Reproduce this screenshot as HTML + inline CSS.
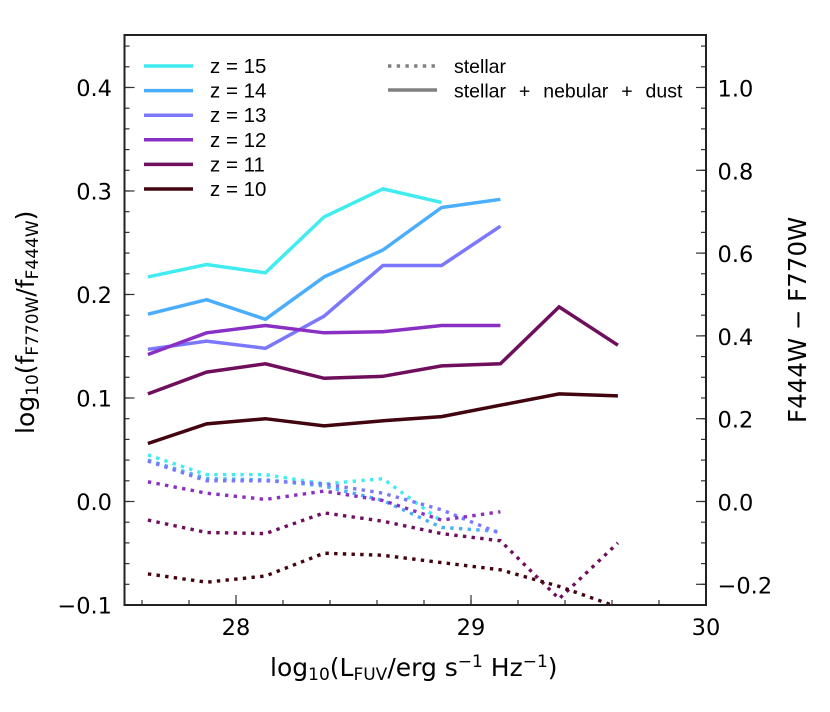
<!DOCTYPE html>
<html>
<head>
<meta charset="utf-8">
<title>Colour versus UV luminosity</title>
<style>
html,body{margin:0;padding:0;background:#fff;}
svg{display:block;}
text{fill:#000;}
.tick{font-family:"DejaVu Sans",sans-serif;font-size:22.5px;}
.title{font-family:"DejaVu Sans",sans-serif;font-size:25px;}
.legend{font-family:"Liberation Sans",sans-serif;font-size:20.5px;}
.legend-right{font-family:"Liberation Sans",sans-serif;font-size:19.5px;word-spacing:7.5px;}
</style>
</head>
<body>
<svg id="chart" xmlns="http://www.w3.org/2000/svg" width="830" height="712" viewBox="0 0 830 712">
  <defs><clipPath id="plot-clip"><rect x="124.5" y="35" width="581.5" height="570"/></clipPath></defs>
  <g id="series-layer" clip-path="url(#plot-clip)"></g>
  <g id="tick-layer"></g>
  <rect x="124.5" y="35" width="581.5" height="570" fill="none" stroke="#222" stroke-width="2"/>

  <text class="title" transform="translate(34,434) rotate(-90)">log<tspan font-size="17" dy="4">10</tspan><tspan dy="-4">(f</tspan><tspan font-size="17" dy="4">F770W</tspan><tspan dy="-4">/f</tspan><tspan font-size="17" dy="4">F444W</tspan><tspan dy="-4">)</tspan></text>
  <text class="title" transform="translate(806,423) rotate(-90)" style="font-size:24.5px">F444W − F770W</text>
  <text class="title" x="270" y="676" style="font-size:25px">log<tspan font-size="17" dy="4">10</tspan><tspan dy="-4">(L</tspan><tspan font-size="17" dy="4">FUV</tspan><tspan dy="-4">/erg s</tspan><tspan font-size="17" dy="-9">−1</tspan><tspan dy="9"> Hz</tspan><tspan font-size="17" dy="-9">−1</tspan><tspan dy="9">)</tspan></text>

  <g id="legend"></g>
  <g>
    <line x1="388" x2="437" y1="66" y2="66" stroke="#808080" stroke-width="3.4" stroke-dasharray="3.4 5.3"/>
    <text class="legend-right" x="454" y="73">stellar</text>
  </g>
  <g>
    <line x1="388" x2="437" y1="90" y2="90" stroke="#808080" stroke-width="3.5"/>
    <text class="legend-right" x="454" y="97.5">stellar + nebular + dust</text>
  </g>
</svg>
<script>
var luminosityBins = [27.625, 27.875, 28.125, 28.375, 28.625, 28.875, 29.125, 29.375, 29.625];
var redshifts = [15, 14, 13, 12, 11, 10];
var seriesColors = ['#40ecf0', '#4aaefc', '#7b78fc', '#8a2fc4', '#6f0f5c', '#42040f'];

var fullModelZ15 = [0.217, 0.229, 0.221, 0.275, 0.302, 0.289];
var fullModelZ14 = [0.181, 0.195, 0.176, 0.217, 0.243, 0.284, 0.292];
var fullModelZ13 = [0.147, 0.155, 0.148, 0.179, 0.228, 0.228, 0.266];
var fullModelZ12 = [0.142, 0.163, 0.170, 0.163, 0.164, 0.170, 0.170];
var fullModelZ11 = [0.104, 0.125, 0.133, 0.119, 0.121, 0.131, 0.133, 0.188, 0.151];
var fullModelZ10 = [0.056, 0.075, 0.080, 0.073, 0.078, 0.082, 0.093, 0.104, 0.102];

var stellarZ15 = [0.045, 0.026, 0.026, 0.017, 0.022, -0.019];
var stellarZ14 = [0.040, 0.022, 0.021, 0.015, 0.001, -0.025, -0.029];
var stellarZ13 = [0.039, 0.020, 0.020, 0.017, 0.008, -0.008, -0.031];
var stellarZ12 = [0.019, 0.008, 0.002, 0.010, 0.001, -0.018, -0.010];
var stellarZ11 = [-0.018, -0.030, -0.031, -0.011, -0.019, -0.031, -0.038, -0.094, -0.040];
var stellarZ10 = [-0.070, -0.078, -0.072, -0.050, -0.052, -0.059, -0.066, -0.082, -0.102];

var xTickValues = [28, 29, 30];
var xTickLabels = ['28', '29', '30'];
var leftTickValues = [-0.1, 0, 0.1, 0.2, 0.3, 0.4];
var leftTickLabels = ['−0.1', '0.0', '0.1', '0.2', '0.3', '0.4'];
var rightTickValues = [-0.2, 0, 0.2, 0.4, 0.6, 0.8, 1.0];
var rightTickLabels = ['−0.2', '0.0', '0.2', '0.4', '0.6', '0.8', '1.0'];

var NS = 'http://www.w3.org/2000/svg';
var X0 = 124.5, X1 = 706, Y0 = 605, Y1 = 35;
var X_MIN = 27.5255, X_MAX = 30, Y_MIN = -0.1, Y_MAX = 0.4507;

function xScale(v) { return X0 + (v - X_MIN) / (X_MAX - X_MIN) * (X1 - X0); }
function yScale(v) { return Y0 - (v - Y_MIN) / (Y_MAX - Y_MIN) * (Y0 - Y1); }
function yRightScale(v) { return yScale(v / 2.5); }

function make(tag, attrs, parent) {
  var el = document.createElementNS(NS, tag);
  for (var k in attrs) el.setAttribute(k, attrs[k]);
  parent.appendChild(el);
  return el;
}

var seriesLayer = document.getElementById('series-layer');
var tickLayer = document.getElementById('tick-layer');
var legend = document.getElementById('legend');

var fullModels = [fullModelZ15, fullModelZ14, fullModelZ13, fullModelZ12, fullModelZ11, fullModelZ10];
var stellarModels = [stellarZ15, stellarZ14, stellarZ13, stellarZ12, stellarZ11, stellarZ10];

function linePoints(values) {
  return values.map(function (v, i) {
    return xScale(luminosityBins[i]).toFixed(1) + ',' + yScale(v).toFixed(1);
  }).join(' ');
}

redshifts.forEach(function (z, i) {
  var solid = make('polyline', {points: linePoints(fullModels[i]), fill: 'none', stroke: seriesColors[i], 'stroke-width': 3.5, 'stroke-linejoin': 'miter'}, seriesLayer);
  
  

  var dotted = make('polyline', {points: linePoints(stellarModels[i]), fill: 'none', stroke: seriesColors[i], 'stroke-width': 3.4, 'stroke-dasharray': '3.4 5.3'}, seriesLayer);
  
  

  var ly = 66 + i * 24.6;
  var swatch = make('line', {x1: 144, x2: 193, y1: ly, y2: ly, stroke: seriesColors[i], 'stroke-width': 3.5}, legend);
  
  

  var label = make('text', {x: 210, y: ly + 7, 'class': 'legend'}, legend);
  
  
  label.textContent = 'z = ' + z;
});

function tickMark(x1, y1, x2, y2, name) {
  var t = make('line', {x1: x1, y1: y1, x2: x2, y2: y2, stroke: '#333', 'stroke-width': 1.2}, tickLayer);
  
  
}

function tickText(x, y, anchor, str, name) {
  var t = make('text', {x: x, y: y, 'text-anchor': anchor, 'class': 'tick'}, tickLayer);
  
  
  t.textContent = str;
}

// minor ticks
for (var mx = 27.6; mx < 30; mx += 0.2) {
  tickMark(xScale(mx), Y0, xScale(mx), Y0 - 5, 'x-minor-tick');
}
for (var ml = -0.08; ml < 0.45; ml += 0.02) {
  tickMark(X0, yScale(ml), X0 + 5, yScale(ml), 'left-minor-tick');
}
for (var mr = -0.2; mr < 1.13; mr += 0.05) {
  tickMark(X1, yRightScale(mr), X1 - 5, yRightScale(mr), 'right-minor-tick');
}

// major ticks and labels
xTickValues.forEach(function (v, i) {
  tickMark(xScale(v), Y0, xScale(v), Y0 - 10, 'x-major-tick');
  tickText(xScale(v), 635, 'middle', xTickLabels[i], 'x-tick-label');
});
leftTickValues.forEach(function (v, i) {
  tickMark(X0, yScale(v), X0 + 10, yScale(v), 'left-major-tick');
  tickText(112, yScale(v) + 8.5, 'end', leftTickLabels[i], 'left-tick-label');
});
rightTickValues.forEach(function (v, i) {
  tickMark(X1, yRightScale(v), X1 - 10, yRightScale(v), 'right-major-tick');
  tickText(717.5, yRightScale(v) + 9, 'start', rightTickLabels[i], 'right-tick-label');
});
</script>
</body>
</html>
